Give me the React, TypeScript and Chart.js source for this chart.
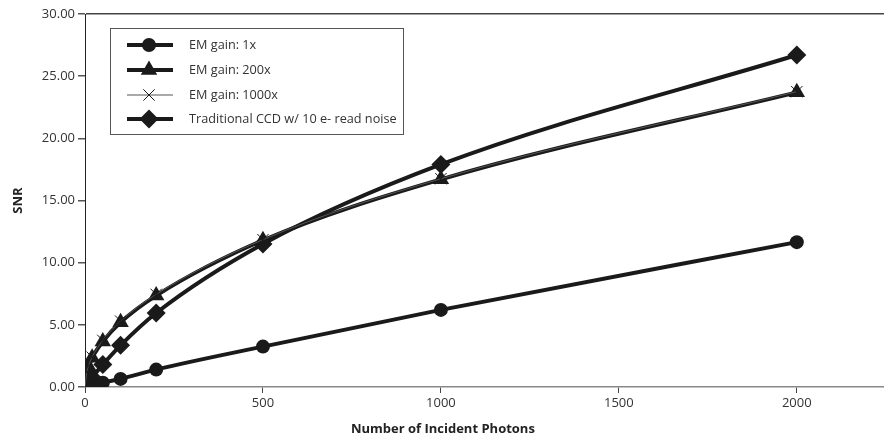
import React, { useEffect, useRef } from "react";
import { Chart, registerables } from "chart.js";

Chart.register(...registerables);

const photons = [0, 5, 10, 20, 50, 100, 200, 500, 1000, 2000];
const emGain1x = [0, 0.03, 0.06, 0.12, 0.35, 0.65, 1.4, 3.25, 6.2, 11.65];
const emGain200x = [0, 1.15, 1.65, 2.35, 3.65, 5.2, 7.35, 11.8, 16.7, 23.7];
const emGain1000x = [0, 1.2, 1.7, 2.4, 3.75, 5.3, 7.45, 11.85, 16.75, 23.75];
const traditionalCCD = [0, 0.2, 0.39, 0.77, 1.8, 3.35, 5.95, 11.5, 17.9, 26.7];

const seriesLabels = [
  "EM gain: 1x",
  "EM gain: 200x",
  "EM gain: 1000x",
  "Traditional CCD w/ 10 e- read noise",
];
const yTicks = [0, 5, 10, 15, 20, 25, 30];
const xTicks = [0, 500, 1000, 1500, 2000];
const xTitle = "Number of Incident Photons";

const FONT = "'Open Sans', 'DejaVu Sans', sans-serif";
const INK = "#1a1a1a";
const TEXT = "#333333";

const toPoints = (ys: number[]) => photons.map((x, i) => ({ x, y: ys[i] }));

function drawMarker(ctx: CanvasRenderingContext2D, style: string, x: number, y: number, r: number) {
  ctx.beginPath();
  if (style === "circle") {
    ctx.arc(x, y, r, 0, Math.PI * 2);
    ctx.fill();
  } else if (style === "triangle") {
    for (let k = 0; k < 3; k++) {
      const a = (k * 2 * Math.PI) / 3;
      const px = x + Math.sin(a) * r;
      const py = y - Math.cos(a) * r;
      if (k === 0) ctx.moveTo(px, py);
      else ctx.lineTo(px, py);
    }
    ctx.closePath();
    ctx.fill();
  } else if (style === "rectRot") {
    ctx.moveTo(x - r, y);
    ctx.lineTo(x, y - r);
    ctx.lineTo(x + r, y);
    ctx.lineTo(x, y + r);
    ctx.closePath();
    ctx.fill();
  } else if (style === "crossRot") {
    const d = r * Math.SQRT1_2;
    ctx.moveTo(x - d, y - d);
    ctx.lineTo(x + d, y + d);
    ctx.moveTo(x + d, y - d);
    ctx.lineTo(x - d, y + d);
    ctx.stroke();
  }
}

const legendPlugin = {
  id: "boxLegend",
  afterDraw(chart: any) {
    const ctx: CanvasRenderingContext2D = chart.ctx;
    const box = { x: 110.5, y: 28.5, w: 293, h: 106 };
    ctx.save();
    ctx.fillStyle = "#ffffff";
    ctx.fillRect(box.x, box.y, box.w, box.h);
    ctx.strokeStyle = "#555555";
    ctx.lineWidth = 1;
    ctx.strokeRect(box.x, box.y, box.w, box.h);
    const rows = [45, 70, 95, 119];
    chart.data.datasets.forEach((ds: any, i: number) => {
      const y = rows[i];
      ctx.strokeStyle = ds.borderColor;
      ctx.fillStyle = ds.pointBackgroundColor;
      ctx.lineWidth = ds.borderWidth;
      ctx.beginPath();
      ctx.moveTo(127, y);
      ctx.lineTo(173, y);
      ctx.stroke();
      ctx.lineWidth = ds.pointBorderWidth;
      ctx.strokeStyle = ds.pointBorderColor;
      drawMarker(ctx, ds.pointStyle, 149, y, ds.pointRadius);
      ctx.fillStyle = TEXT;
      ctx.font = `12.7px ${FONT}`;
      ctx.textAlign = "left";
      ctx.textBaseline = "middle";
      ctx.fillText(ds.label, 189, y);
    });
    // x axis title, centred under the 0..2000 span
    const xs = chart.scales.x;
    const cx = (xs.getPixelForValue(xTicks[0]) + xs.getPixelForValue(xTicks[xTicks.length - 1])) / 2;
    ctx.fillStyle = "#222222";
    ctx.font = `bold 13px ${FONT}`;
    ctx.textAlign = "center";
    ctx.textBaseline = "middle";
    ctx.fillText(xTitle, cx + 2, 429);
    ctx.restore();
  },
};

export default function App() {
  const canvasRef = useRef<HTMLCanvasElement | null>(null);

  useEffect(() => {
    if (!canvasRef.current) return;
    const common = {
      cubicInterpolationMode: "monotone" as const,
      pointHoverRadius: 0,
    };
    const chart = new Chart(canvasRef.current, {
      type: "line",
      data: {
        datasets: [
          {
            ...common,
            label: seriesLabels[0],
            data: toPoints(emGain1x),
            borderColor: INK,
            borderWidth: 4,
            pointStyle: "circle",
            pointRadius: 7,
            pointBackgroundColor: INK,
            pointBorderColor: INK,
            pointBorderWidth: 0,
            order: 2,
          },
          {
            ...common,
            label: seriesLabels[1],
            data: toPoints(emGain200x),
            borderColor: INK,
            borderWidth: 4,
            pointStyle: "triangle",
            pointRadius: 9.5,
            pointBackgroundColor: INK,
            pointBorderColor: INK,
            pointBorderWidth: 0,
            order: 2,
          },
          {
            ...common,
            label: seriesLabels[2],
            data: toPoints(emGain1000x),
            borderColor: "#555555",
            borderWidth: 1,
            pointStyle: "crossRot",
            pointRadius: 8,
            pointBackgroundColor: INK,
            pointBorderColor: INK,
            pointBorderWidth: 1,
            order: 1,
          },
          {
            ...common,
            label: seriesLabels[3],
            data: toPoints(traditionalCCD),
            borderColor: INK,
            borderWidth: 4,
            pointStyle: "rectRot",
            pointRadius: 9.5,
            pointBackgroundColor: INK,
            pointBorderColor: INK,
            pointBorderWidth: 0,
            order: 2,
          },
        ],
      },
      options: {
        animation: false,
        responsive: false,
        layout: { autoPadding: false, padding: { top: 14, right: 0, left: 0, bottom: 0 } },
        plugins: {
          legend: { display: false },
          tooltip: { enabled: false },
        },
        scales: {
          x: {
            type: "linear",
            min: 0,
            max: 2245,
            afterBuildTicks: (scale: any) => {
              scale.ticks = xTicks.map((v) => ({ value: v }));
            },
            afterFit: (scale: any) => {
              scale.height = 54;
              scale.paddingRight = 0;
            },
            ticks: {
              color: TEXT,
              font: { family: FONT, size: 13 },
              padding: 2,
              maxRotation: 0,
              callback: (v: any) => String(v),
            },
            grid: {
              drawOnChartArea: false,
              tickLength: 6,
              tickColor: "#444444",
            },
            border: { color: "#888888", width: 1.5 },
            title: { display: false },
          },
          y: {
            type: "linear",
            min: 0,
            max: 30,
            afterBuildTicks: (scale: any) => {
              scale.ticks = yTicks.map((v) => ({ value: v }));
            },
            afterFit: (scale: any) => {
              scale.width = 85;
            },
            ticks: {
              color: TEXT,
              font: { family: FONT, size: 13 },
              padding: 3,
              callback: (v: any) => Number(v).toFixed(2),
            },
            grid: {
              drawOnChartArea: true,
              color: (c: any) => (c.tick && c.tick.value === 30 ? "#444444" : "rgba(0,0,0,0)"),
              lineWidth: 1.5,
              tickLength: 7,
              tickColor: "#555555",
            },
            border: { color: "#222222", width: 1 },
            title: {
              display: true,
              text: "SNR",
              color: "#222222",
              font: { family: FONT, size: 13, weight: "bold" },
              padding: { top: 10, bottom: 0 },
            },
          },
        },
      },
      plugins: [legendPlugin],
    });
    return () => chart.destroy();
  }, []);

  return (
    <div style={{ position: "fixed", left: 0, top: 0, width: 884, height: 441, background: "#fff" }}>
      <canvas ref={canvasRef} width={884} height={441} />
    </div>
  );
}
